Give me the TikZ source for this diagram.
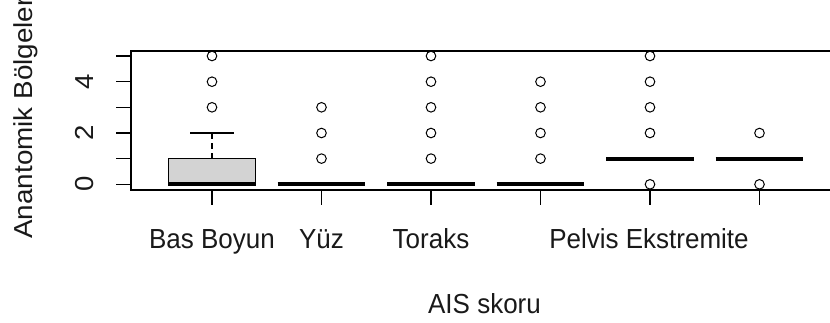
\documentclass[tikz,border=0pt]{standalone}
\usepackage{fontspec}
\setmainfont{Liberation Sans}
\tikzset{
  lbl/.style={font=\fontsize{26}{30}\selectfont, inner sep=0pt, anchor=base, text=black!90},
  frame/.style={line width=1.1pt, draw=black},
  med/.style={line width=4pt, draw=black},
  outp/.style={line width=1pt, draw=black},
  whisk/.style={line width=1.1pt, draw=black, dash pattern=on 6pt off 4pt},
  boxfill/.style={fill=boxgray, draw=black, line width=1.1pt},
}
\definecolor{boxgray}{HTML}{D3D3D3}
\begin{document}
\begin{tikzpicture}[x=1pt,y=-1pt]
\useasboundingbox (0,0) rectangle (830,322);
% plot frame (right side falls outside the picture)
\draw[frame] (830,51) -- (131,51) -- (131,190) -- (830,190);
% y axis ticks
\foreach \v/\yy in {0/184.3,1/158.6,2/133.0,3/107.3,4/81.7,5/56.0}{
  \draw[frame] (116,\yy) -- (131,\yy);
}
\foreach \v/\yy in {0/184.3,2/133.0,4/81.7}{
  \node[lbl, yscale=1.06, rotate=90] (ylab\v) at (93,\yy) {\v};
}
% x axis ticks
\foreach \g/\xx in {1/212,2/321.5,3/431,4/540.5,5/650,6/759.5}{
  \draw[frame] (\xx,190) -- (\xx,205);
}
\node[lbl, yscale=1.06] (xl1) at (212,248) {Bas Boyun};
\node[lbl, yscale=1.06] (xl2) at (321.5,248) {Yüz};
\node[lbl, yscale=1.06] (xl3) at (431,248) {Toraks};
\node[lbl, yscale=1.06] (xl5) at (649,248) {Pelvis Ekstremite};
% axis titles
\node[lbl, yscale=1.06] (xtitle) at (484.5,313) {AIS skoru};
\node[lbl, yscale=1.07, rotate=90] (ytitle) at (32,118) {Anantomik Bölgeler};
% group 1 box
\draw[whisk] (212,158.6) -- (212,133.0);
\draw[frame] (190,133.0) -- (234,133.0);
\draw[boxfill] (168.2,184.3) rectangle (255.8,158.6);
\draw[med] (168.2,184.3) -- (255.8,184.3);
% collapsed boxes (medians)
\draw[med] (277.7,184.3) -- (365.3,184.3);
\draw[med] (387.2,184.3) -- (474.8,184.3);
\draw[med] (496.7,184.3) -- (584.3,184.3);
\draw[med] (606.2,158.6) -- (693.8,158.6);
\draw[med] (715.7,158.6) -- (803.3,158.6);
% outliers
\foreach \xx/\yy in {212/107.3,212/81.7,212/56.0,
  321.5/158.6,321.5/133.0,321.5/107.3,
  431/158.6,431/133.0,431/107.3,431/81.7,431/56.0,
  540.5/158.6,540.5/133.0,540.5/107.3,540.5/81.7,
  650/184.3,650/133.0,650/107.3,650/81.7,650/56.0,
  759.5/184.3,759.5/133.0}{
  \draw[outp] (\xx,\yy) circle (4.8pt);
}
\end{tikzpicture}
\end{document}
